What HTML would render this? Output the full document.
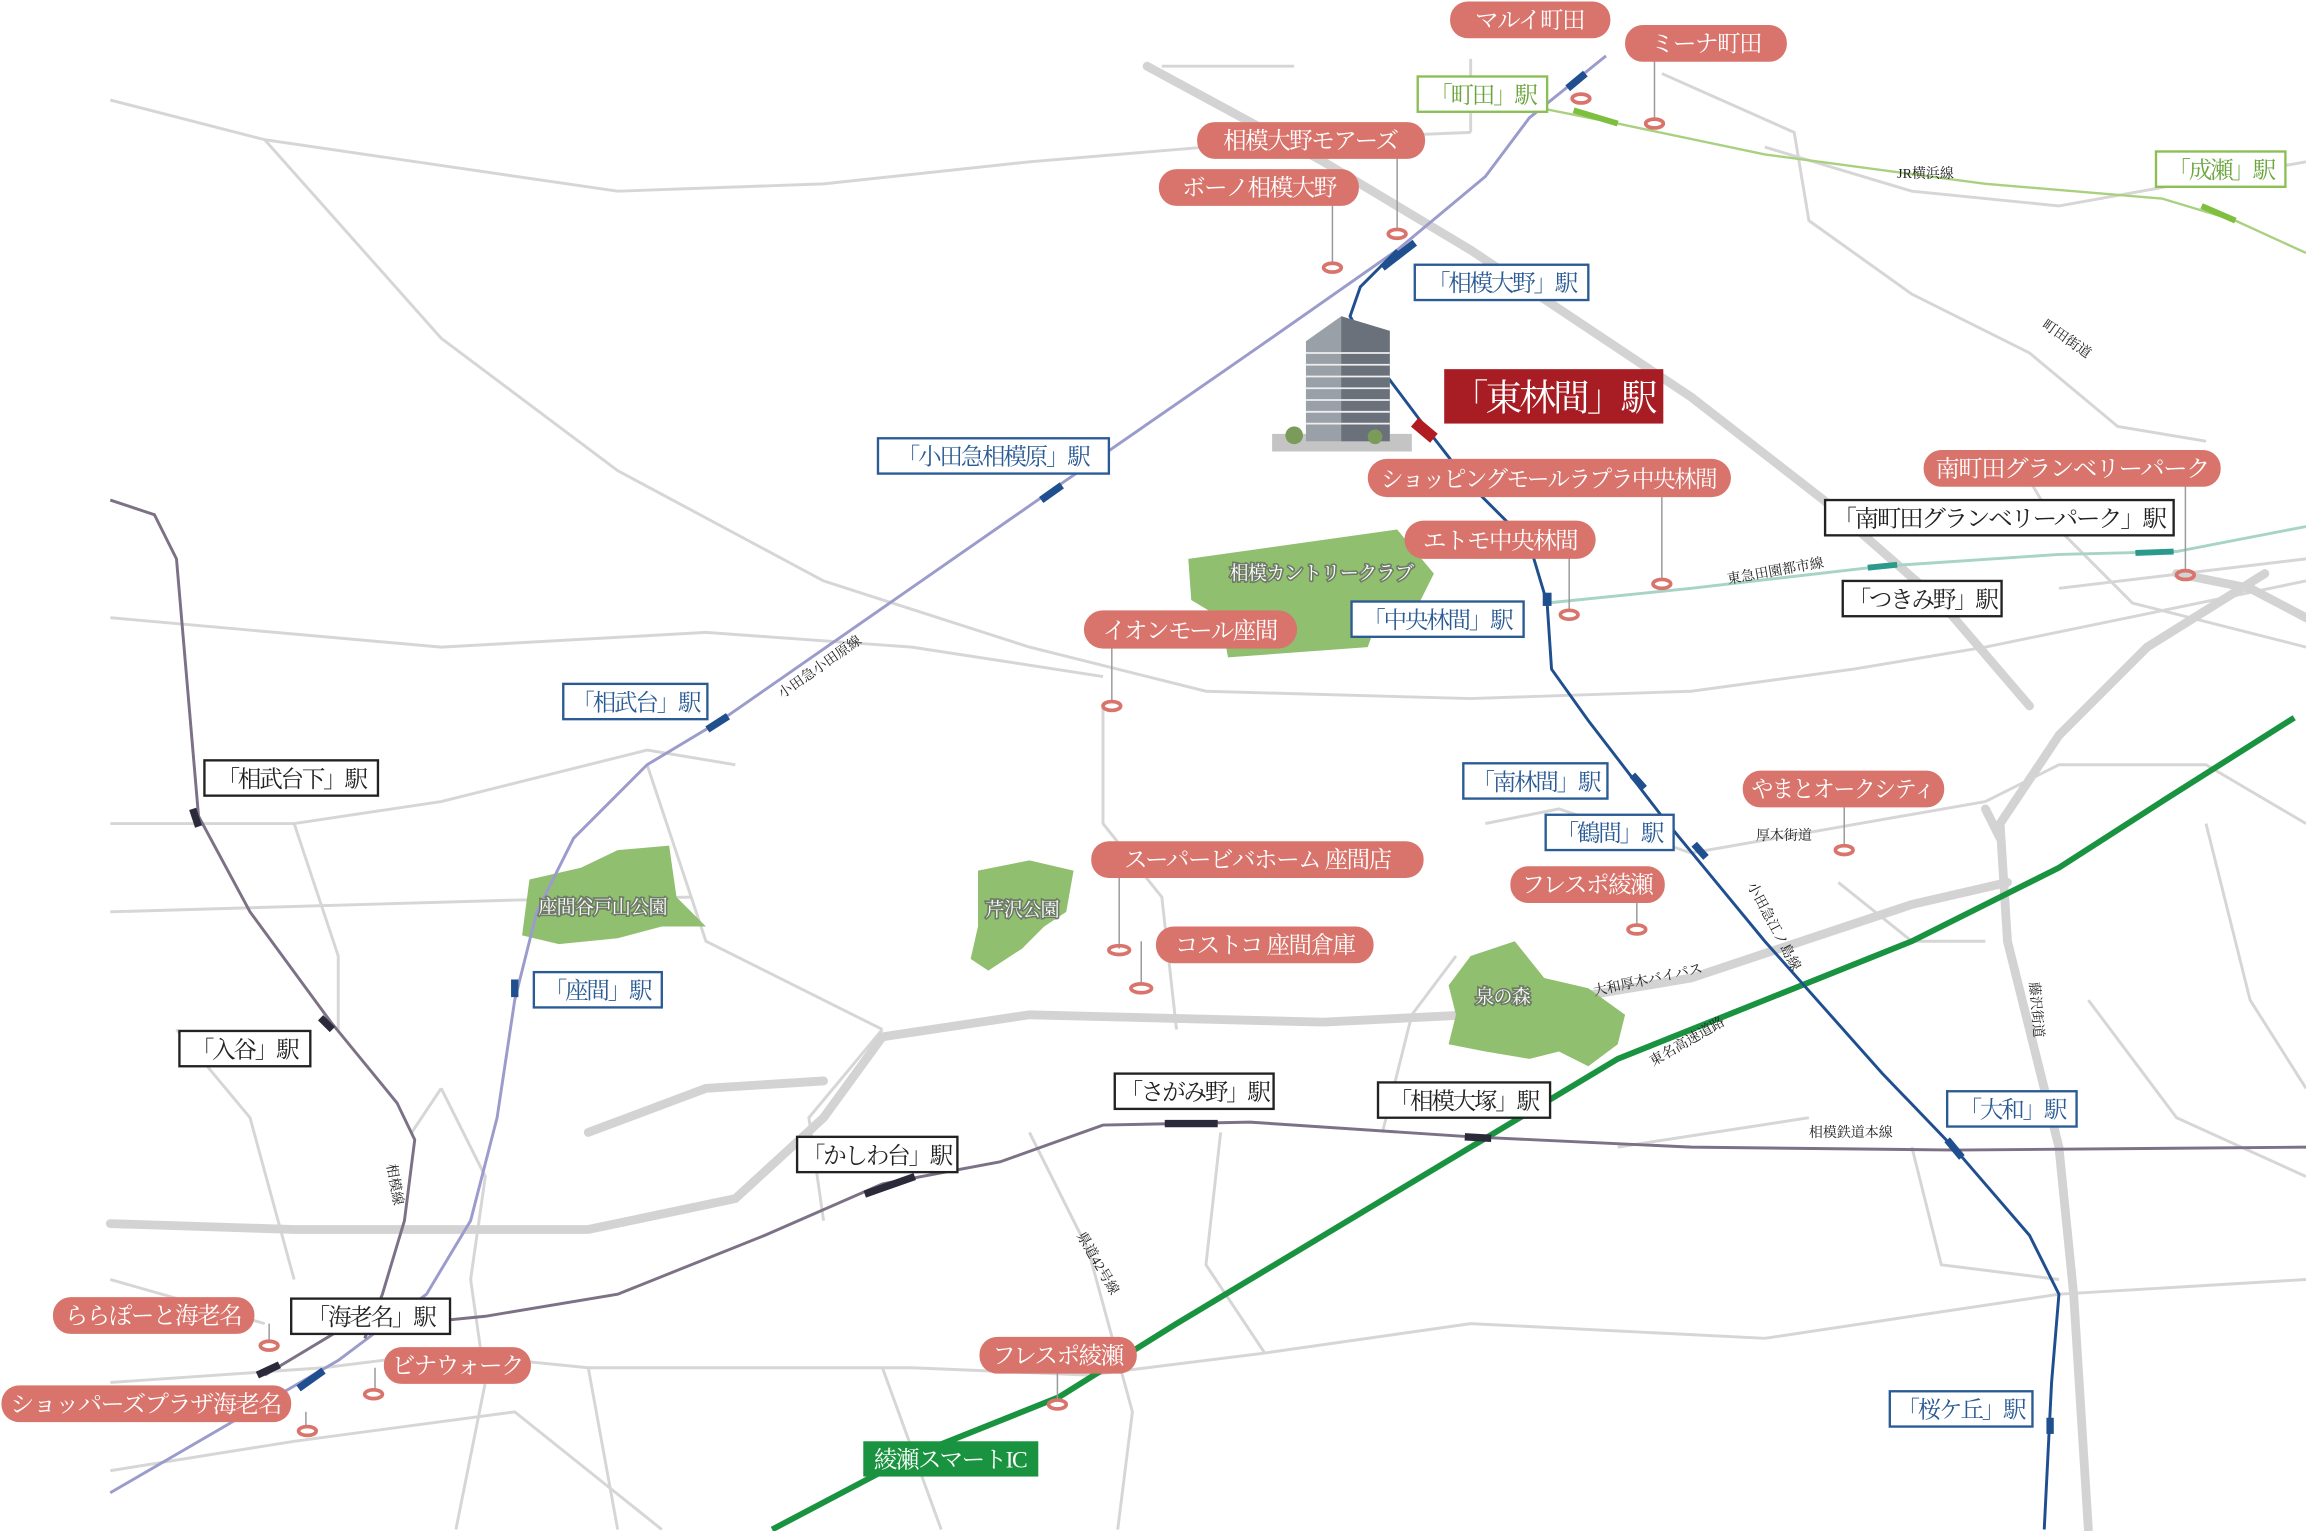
<!DOCTYPE html>
<html><head><meta charset="utf-8"><style>
html,body{margin:0;padding:0;background:#fff;}
svg{display:block;}
text{font-family:"Liberation Serif","Noto Serif CJK SC",serif;}
.st{fill:#fff;stroke-width:1.6;}
.pill{fill:#d9746c;}
.pt{fill:#fff;font-size:16px;letter-spacing:-1px;}
.sb{fill:#2b5b94;font-size:16px;letter-spacing:-1.5px;}
.sk{fill:#222;font-size:16px;letter-spacing:-1.5px;}
.sg{fill:#6aa53b;font-size:16px;letter-spacing:-1.5px;}
.sm{font-size:9.5px;fill:#222;}
.pin{fill:none;stroke:#d9746c;stroke-width:2.5;}
.ln{stroke:#999;stroke-width:1;}
.pk{font-size:13px;fill:#fff;stroke:#6d7a66;stroke-width:2.2px;paint-order:stroke;letter-spacing:-0.5px;}
</style></head><body>
<svg width="2306" height="1531" viewBox="0 0 1568 1041" xmlns="http://www.w3.org/2000/svg">
<rect width="1568" height="1041" fill="#fff"/>
<g fill="none" stroke="#d6d6d6" stroke-width="2">
<path d="M75,68 L180,95 L420,130 L560,125 L700,110 L880,95 L1000,90"/>
<path d="M180,95 L300,230 L420,320 L560,395 L700,440 L820,470 L1000,475 L1150,470 L1260,455 L1350,440 L1568,395"/>
<path d="M75,420 L300,440 L480,430 L620,440 L750,460"/>
<path d="M790,45 L880,45"/>
<path d="M1000,90 L1000,40"/>
<path d="M1130,50 L1220,90 L1230,150 L1300,200 L1380,240 L1440,290 L1500,300"/>
<path d="M1200,100 L1300,130 L1400,140 L1568,110"/>
<path d="M1370,310 L1400,360 L1450,410 L1568,440"/>
<path d="M75,560 L200,560 L300,545 L440,510 L500,520"/>
<path d="M75,620 L350,612 L470,610"/>
<path d="M200,560 L230,650 L230,700"/>
<path d="M440,520 L480,640 L560,680 L600,700"/>
<path d="M750,480 L750,560 L790,610 L800,700"/>
<path d="M300,740 L330,800 L320,870 L330,940 L310,1040"/>
<path d="M75,940 L220,930 L300,920 L400,930 L620,930 L740,935 L860,920 L1000,900 L1200,910 L1400,880 L1568,870"/>
<path d="M75,1000 L200,980 L350,960 L450,1040"/>
<path d="M600,930 L640,1040"/>
<path d="M700,770 L740,850 L770,960 L760,1040"/>
<path d="M830,770 L820,860 L860,920"/>
<path d="M940,770 L960,690 L990,650"/>
<path d="M1010,560 L1060,550 L1150,580 L1350,545"/>
<path d="M1350,545 L1400,520 L1500,520 L1568,560"/>
<path d="M1250,600 L1300,640 L1350,640"/>
<path d="M1300,780 L1320,860 L1400,870"/>
<path d="M1500,560 L1530,680 L1568,740"/>
<path d="M1420,680 L1480,760 L1568,800"/>
<path d="M1100,780 L1230,760"/>
<path d="M600,700 L550,760 L560,830"/>
<path d="M400,930 L420,1040"/>
<path d="M75,870 L180,900"/>
<path d="M1400,400 L1568,380"/>
<path d="M120,700 L170,760 L200,870"/>
<path d="M280,770 L300,740"/>
</g>
<g fill="none" stroke="#d3d3d3" stroke-width="6" stroke-linecap="round">
<path d="M780,45 L900,110 L1000,170 L1150,270 L1240,340 L1320,410 L1380,480"/>
<path d="M75,832 L200,836 L400,836 L500,815 L560,760 L600,705 L700,690 L900,695 L1000,690 L1150,665 L1300,615 L1365,600"/>
<path d="M1540,390 L1460,440 L1400,500 L1360,560 L1365,640 L1380,700 L1400,780 L1410,880 L1420,1040"/>
<path d="M1568,420 L1530,400 L1480,390"/>
<path d="M400,770 L480,740 L560,735"/>
<path d="M1360,570 L1350,550"/>
</g>
<g fill="#90bf6f">
<path d="M808,380 L950,360 L975,390 L965,410 L940,412 L930,440 L835,447 L830,420 L810,408 Z"/>
<path d="M360,598 L395,590 L420,578 L455,575 L460,610 L480,630 L450,630 L420,638 L380,642 L355,636 Z"/>
<path d="M665,592 L700,585 L730,592 L725,620 L710,630 L695,645 L672,660 L660,652 L665,630 Z"/>
<path d="M1000,650 L1030,640 L1050,665 L1080,672 L1105,690 L1100,710 L1080,725 L1060,715 L1040,720 L1010,715 L985,710 L990,690 L985,670 Z"/>
</g>
<path d="M525,1040 L620,990 L720,950 L800,900 L900,840 L1000,780 L1100,720 L1200,680 L1300,640 L1400,590 L1470,545 L1560,488" fill="none" stroke="#1a9340" stroke-width="4"/>
<path d="M1030,70 L1100,84 L1200,105 L1350,125 L1470,135 L1520,150 L1568,172" fill="none" stroke="#a9d07f" stroke-width="1.6"/>
<path d="M1070,75 L1100,84" stroke="#7fbf3f" stroke-width="4"/>
<path d="M1497,140 L1520,150" stroke="#7fbf3f" stroke-width="4"/>
<path d="M1052,410 L1150,400 L1280,385 L1400,377 L1480,375 L1568,358" fill="none" stroke="#a7d4c7" stroke-width="2"/>
<path d="M1270,386 L1290,384 M1452,376 L1478,375" stroke="#2b9a8c" stroke-width="4"/>
<path d="M1092,38 L1040,80 L1010,120 L950,170 L850,240 L720,330 L490,490 L440,520 L390,570 L365,620 L350,680 L338,760 L320,830 L290,880 L230,925 L75,1015" fill="none" stroke="#9b9bcc" stroke-width="2"/>
<path d="M950,170 L925,195 L918,215 L935,245 L965,285 L1000,330 L1040,370 L1052,410 L1055,455 L1080,490 L1130,555 L1200,640 L1280,730 L1330,782 L1380,840 L1400,880 L1395,940 L1390,1040" fill="none" stroke="#1f4f8f" stroke-width="2"/>
<path d="M75,340 L105,350 L120,380 L135,555 L170,620 L225,695 L270,750 L282,775 L275,830 L260,880 L248,910" fill="none" stroke="#7c7186" stroke-width="2"/>
<path d="M180,935 L230,905 L330,895 L420,880 L520,840 L600,805 L680,790 L750,765 L850,763 L1000,773 L1150,780 L1330,782 L1568,780" fill="none" stroke="#7c7186" stroke-width="2"/>
<g stroke-width="5">
<path d="M1066,60 L1078,50" stroke="#1f4f8f"/>
<path d="M940,182 L962,165" stroke="#1f4f8f"/>
<path d="M708,340 L722,330" stroke="#1f4f8f"/>
<path d="M481,496 L495,487" stroke="#1f4f8f"/>
<path d="M350,666 L350,678" stroke="#1f4f8f"/>
<path d="M203,944 L220,932" stroke="#1f4f8f"/>
<path d="M962,287 L975,298" stroke="#b11c22" stroke-width="8"/>
<path d="M1052,403 L1052,412" stroke="#1f4f8f" stroke-width="6"/>
<path d="M1110,527 L1118,536" stroke="#1f4f8f"/>
<path d="M1152,574 L1160,583" stroke="#1f4f8f"/>
<path d="M1324,775 L1334,787" stroke="#1f4f8f"/>
<path d="M1394,964 L1394,975" stroke="#1f4f8f"/>
<path d="M131,550 L135,562" stroke="#2a2a3a"/>
<path d="M218,692 L226,700" stroke="#2a2a3a"/>
<path d="M588,812 L622,800" stroke="#2a2a3a"/>
<path d="M792,764 L828,764" stroke="#2a2a3a"/>
<path d="M996,773 L1014,774" stroke="#2a2a3a"/>
<path d="M175,935 L190,928" stroke="#2a2a3a"/>
</g>
<g>
<rect x="865" y="295" width="95" height="12" fill="#c4c4c4"/>
<polygon points="888,232 912,215 945,225 945,300 888,300" fill="#9aa0a8"/>
<polygon points="912,215 945,225 945,300 912,300" fill="#6a717b"/>
<g stroke="#eee" stroke-width="1.2">
<path d="M888,240 L945,240 M888,248 L945,248 M888,256 L945,256 M888,264 L945,264 M888,272 L945,272 M888,280 L945,280 M888,288 L945,288"/>
</g>
<circle cx="880" cy="296" r="6" fill="#7a9b5a"/>
<circle cx="935" cy="297" r="5" fill="#7a9b5a"/>
</g>
<g>
<ellipse class="pin" cx="1075" cy="67" rx="6" ry="3"/>
<line class="ln" x1="1125" y1="40" x2="1125" y2="82"/><ellipse class="pin" cx="1125" cy="84" rx="6" ry="3"/>
<line class="ln" x1="950" y1="106" x2="950" y2="157"/><ellipse class="pin" cx="950" cy="159" rx="6" ry="3"/>
<line class="ln" x1="906" y1="138" x2="906" y2="180"/><ellipse class="pin" cx="906" cy="182" rx="6" ry="3"/>
<line class="ln" x1="1130" y1="335" x2="1130" y2="395"/><ellipse class="pin" cx="1130" cy="397" rx="6" ry="3"/>
<line class="ln" x1="1067" y1="378" x2="1067" y2="415"/><ellipse class="pin" cx="1067" cy="418" rx="6" ry="3"/>
<line class="ln" x1="1486" y1="330" x2="1486" y2="388"/><ellipse class="pin" cx="1486" cy="391" rx="6" ry="3"/>
<line class="ln" x1="756" y1="438" x2="756" y2="478"/><ellipse class="pin" cx="756" cy="480" rx="6" ry="3"/>
<line class="ln" x1="1254" y1="547" x2="1254" y2="576"/><ellipse class="pin" cx="1254" cy="578" rx="6" ry="3"/>
<line class="ln" x1="1113" y1="610" x2="1113" y2="630"/><ellipse class="pin" cx="1113" cy="632" rx="6" ry="3"/>
<line class="ln" x1="761" y1="595" x2="761" y2="645"/><ellipse class="pin" cx="761" cy="646" rx="7" ry="3" fill="#d9746c"/>
<line class="ln" x1="776" y1="640" x2="776" y2="670"/><ellipse class="pin" cx="776" cy="672" rx="7" ry="3" fill="#d9746c"/>
<line class="ln" x1="183" y1="900" x2="183" y2="913"/><ellipse class="pin" cx="183" cy="915" rx="6" ry="3"/>
<line class="ln" x1="255" y1="930" x2="255" y2="946"/><ellipse class="pin" cx="254" cy="948" rx="6" ry="3"/>
<line class="ln" x1="208" y1="960" x2="208" y2="970"/><ellipse class="pin" cx="209" cy="973" rx="6" ry="3"/>
<line class="ln" x1="719" y1="930" x2="719" y2="952"/><ellipse class="pin" cx="719" cy="955" rx="6" ry="3"/>
</g>
<g>
<rect class="pill" x="986" y="1" width="109" height="25" rx="12"/><text class="pt" x="1040" y="19" text-anchor="middle">マルイ町田</text>
<rect class="pill" x="1105" y="17" width="110" height="25" rx="12"/><text class="pt" x="1160" y="35" text-anchor="middle">ミーナ町田</text>
<rect class="pill" x="814" y="83" width="155" height="25" rx="12"/><text class="pt" x="891" y="101" text-anchor="middle">相模大野モアーズ</text>
<rect class="pill" x="788" y="115" width="136" height="25" rx="12"/><text class="pt" x="856" y="133" text-anchor="middle">ボーノ相模大野</text>
<rect class="pill" x="930" y="312" width="247" height="26" rx="13"/><text class="pt" x="1053" y="331" text-anchor="middle" textLength="228" lengthAdjust="spacingAndGlyphs">ショッピングモールラプラ中央林間</text>
<rect class="pill" x="955" y="354" width="130" height="26" rx="13"/><text class="pt" x="1020" y="373" text-anchor="middle">エトモ中央林間</text>
<rect class="pill" x="1308" y="306" width="202" height="25" rx="12"/><text class="pt" x="1409" y="324" text-anchor="middle" textLength="186" lengthAdjust="spacingAndGlyphs">南町田グランベリーパーク</text>
<rect class="pill" x="737" y="415" width="145" height="26" rx="13"/><text class="pt" x="809" y="434" text-anchor="middle">イオンモール座間</text>
<rect class="pill" x="1185" y="524" width="137" height="25" rx="12"/><text class="pt" x="1253" y="542" text-anchor="middle" textLength="124" lengthAdjust="spacingAndGlyphs">やまとオークシティ</text>
<rect class="pill" x="742" y="572" width="226" height="25" rx="12"/><text class="pt" x="855" y="590" text-anchor="middle">スーパービバホーム 座間店</text>
<rect class="pill" x="1027" y="589" width="105" height="25" rx="12"/><text class="pt" x="1079" y="607" text-anchor="middle">フレスポ綾瀬</text>
<rect class="pill" x="786" y="630" width="148" height="25" rx="12"/><text class="pt" x="860" y="648" text-anchor="middle">コストコ 座間倉庫</text>
<rect class="pill" x="36" y="882" width="137" height="25" rx="12"/><text class="pt" x="104" y="900" text-anchor="middle">ららぽーと海老名</text>
<rect class="pill" x="261" y="916" width="100" height="25" rx="12"/><text class="pt" x="311" y="934" text-anchor="middle">ビナウォーク</text>
<rect class="pill" x="1" y="942" width="197" height="25" rx="12"/><text class="pt" x="99" y="960" text-anchor="middle" textLength="184" lengthAdjust="spacingAndGlyphs">ショッパーズプラザ海老名</text>
<rect class="pill" x="666" y="909" width="107" height="25" rx="12"/><text class="pt" x="719" y="927" text-anchor="middle">フレスポ綾瀬</text>
</g>
<g>
<rect class="st" x="964" y="52" width="88" height="24" stroke="#8bbf55"/><text class="sg" x="1008" y="70" text-anchor="middle">「町田」駅</text>
<rect class="st" x="1466" y="103" width="88" height="24" stroke="#8bbf55"/><text class="sg" x="1510" y="121" text-anchor="middle">「成瀬」駅</text>
<rect class="st" x="962" y="180" width="118" height="24" stroke="#2b5b94"/><text class="sb" x="1021" y="198" text-anchor="middle">「相模大野」駅</text>
<rect class="st" x="597" y="298" width="157" height="24" stroke="#2b5b94"/><text class="sb" x="675" y="316" text-anchor="middle">「小田急相模原」駅</text>
<rect x="982" y="251" width="149" height="37" fill="#a81c24"/><text x="1056" y="279" text-anchor="middle" style="fill:#fff;font-size:25px;letter-spacing:-2px">「東林間」駅</text>
<rect class="st" x="1241" y="340" width="237" height="24" stroke="#222"/><text class="sk" x="1359" y="358" text-anchor="middle" textLength="226" lengthAdjust="spacingAndGlyphs">「南町田グランベリーパーク」駅</text>
<rect class="st" x="1253" y="395" width="108" height="24" stroke="#222"/><text class="sk" x="1307" y="413" text-anchor="middle">「つきみ野」駅</text>
<rect class="st" x="919" y="409" width="117" height="24" stroke="#2b5b94"/><text class="sb" x="977" y="427" text-anchor="middle">「中央林間」駅</text>
<rect class="st" x="383" y="465" width="98" height="24" stroke="#2b5b94"/><text class="sb" x="432" y="483" text-anchor="middle">「相武台」駅</text>
<rect class="st" x="139" y="517" width="118" height="24" stroke="#222"/><text class="sk" x="198" y="535" text-anchor="middle">「相武台下」駅</text>
<rect class="st" x="995" y="519" width="98" height="24" stroke="#2b5b94"/><text class="sb" x="1044" y="537" text-anchor="middle">「南林間」駅</text>
<rect class="st" x="1051" y="554" width="87" height="24" stroke="#2b5b94"/><text class="sb" x="1094" y="572" text-anchor="middle">「鶴間」駅</text>
<rect class="st" x="363" y="661" width="87" height="24" stroke="#2b5b94"/><text class="sb" x="406" y="679" text-anchor="middle">「座間」駅</text>
<rect class="st" x="122" y="701" width="89" height="24" stroke="#222"/><text class="sk" x="166" y="719" text-anchor="middle">「入谷」駅</text>
<rect class="st" x="758" y="730" width="108" height="24" stroke="#222"/><text class="sk" x="812" y="748" text-anchor="middle">「さがみ野」駅</text>
<rect class="st" x="937" y="736" width="117" height="24" stroke="#222"/><text class="sk" x="995" y="754" text-anchor="middle">「相模大塚」駅</text>
<rect class="st" x="1324" y="742" width="88" height="24" stroke="#2b5b94"/><text class="sb" x="1368" y="760" text-anchor="middle">「大和」駅</text>
<rect class="st" x="542" y="773" width="109" height="24" stroke="#222"/><text class="sk" x="596" y="791" text-anchor="middle">「かしわ台」駅</text>
<rect class="st" x="198" y="883" width="108" height="24" stroke="#222"/><text class="sk" x="252" y="901" text-anchor="middle">「海老名」駅</text>
<rect class="st" x="1285" y="946" width="97" height="24" stroke="#2b5b94"/><text class="sb" x="1333" y="964" text-anchor="middle">「桜ケ丘」駅</text>
<rect x="587" y="980" width="119" height="24" fill="#1a9340"/><text x="646" y="998" text-anchor="middle" style="fill:#fff;font-size:16px;letter-spacing:-1px">綾瀬スマートIC</text>
</g>
<g>
<text class="sm" x="1290" y="121">JR横浜線</text>
<text class="sm" transform="translate(1388,222) rotate(35)">町田街道</text>
<text class="sm" transform="translate(1175,397) rotate(-10)">東急田園都市線</text>
<text class="sm" transform="translate(532,475) rotate(-35)">小田急小田原線</text>
<text class="sm" x="1194" y="571">厚木街道</text>
<text class="sm" transform="translate(1084,677) rotate(-12)">大和厚木バイパス</text>
<text class="sm" transform="translate(1124,725) rotate(-30)">東名高速道路</text>
<text class="sm" transform="translate(1188,602) rotate(62)">小田急江ノ島線</text>
<text class="sm" transform="translate(1380,668) rotate(85)">藤沢街道</text>
<text class="sm" x="1230" y="773">相模鉄道本線</text>
<text class="sm" transform="translate(263,792) rotate(80)">相模線</text>
<text class="sm" transform="translate(732,840) rotate(60)">県道42号線</text>
<text class="pk" x="836" y="394">相模カントリークラブ</text>
<text class="pk" x="366" y="621">座間谷戸山公園</text>
<text class="pk" x="670" y="623">芹沢公園</text>
<text class="pk" x="1003" y="682">泉の森</text>
</g>
</svg>
</body></html>
